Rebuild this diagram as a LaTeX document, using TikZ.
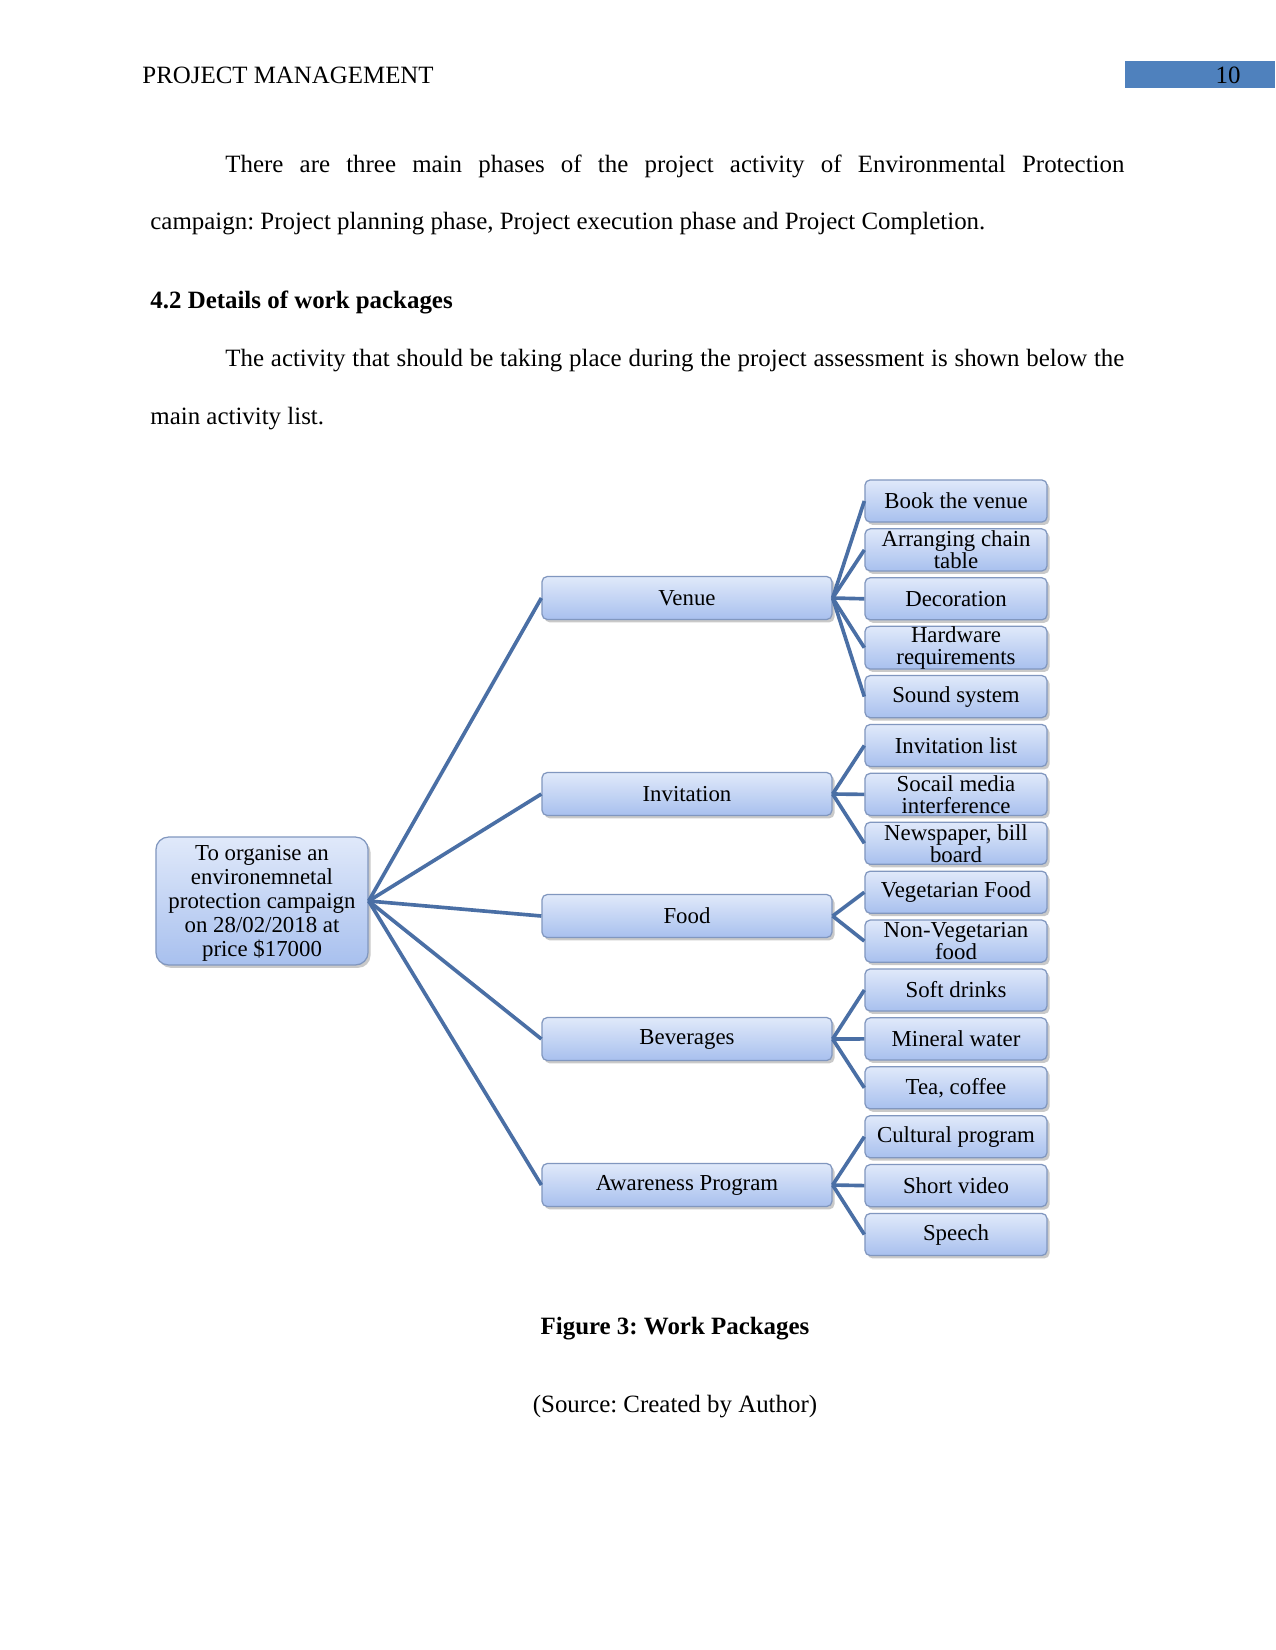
\documentclass[tikz,border=0pt]{standalone}
\usepackage{fontspec}
\setmainfont{Liberation Serif}
\usetikzlibrary{shadows}
\frenchspacing
\definecolor{edgeblue}{HTML}{4A6FA5}
\definecolor{boxtop}{HTML}{E0E9FA}
\definecolor{boxbot}{HTML}{A8C0EE}
\definecolor{boxline}{HTML}{8197BF}
\definecolor{pagenum}{HTML}{4F81BD}
\tikzset{
  wbox/.style={rectangle, rounded corners=2.5bp, draw=boxline, line width=0.6bp,
    top color=boxtop, bottom color=boxbot, inner sep=0pt, align=center,
    font=\fontsize{11}{10.6}\selectfont,
    drop shadow={shadow xshift=1.2bp, shadow yshift=-1.4bp, opacity=0.35, fill=black!60}},
  leaf/.style={wbox, minimum width=87.4bp, minimum height=20.2bp},
  mid/.style={wbox, minimum width=139.2bp, minimum height=20.6bp},
  rootbox/.style={wbox, rounded corners=6bp, minimum width=101.8bp, minimum height=61.4bp,
    font=\fontsize{11}{11.5}\selectfont},
  conn/.style={draw=edgeblue, line width=1.75bp},
  body/.style={anchor=base west, inner sep=0pt, font=\fontsize{12}{14}\selectfont},
}
\begin{document}
\begin{tikzpicture}[x=0.48bp,y=-0.48bp]
\useasboundingbox (0,0) rectangle (1275,1650);
\fill[white] (0,0) rectangle (1275,1650);
% header
\node[body] (hdr) at (142,83) {PROJECT MANAGEMENT};
\fill[pagenum] (1125,61) rectangle (1275,88);
\node[anchor=base east, inner sep=0pt, font=\fontsize{12}{14}\selectfont] (pg) at (1241,83) {10};
% body text
\node[body] (p1a) at (225,172) {\makebox[431.5bp][s]{There are three main phases of the project activity of Environmental Protection}};
\node[body] (p1b) at (150,229) {campaign: Project planning phase, Project execution phase and Project Completion.};
\node[body, font=\fontsize{12}{14}\selectfont\bfseries] (h42) at (150,308) {4.2 Details of work packages};
\node[body] (p2a) at (225,366) {\makebox[431.5bp][s]{The activity that should be taking place during the project assessment is shown below the}};
\node[body] (p2b) at (150,424) {main activity list.};
% diagram
\node[rootbox, text depth=-1.5bp] (root) at (262,901) {To organise an\\environemnetal\\protection campaign\\on 28/02/2018 at\\price \$17000};
\node[mid] (venue) at (687,598) {Venue};
\node[mid] (inv) at (687,794) {Invitation};
\node[mid] (food) at (687,916) {Food};
\node[mid] (bev) at (687,1039) {Beverages};
\node[mid] (aw) at (687,1185) {Awareness Program};
\node[leaf] (c1) at (956,501) {Book the venue};
\node[leaf] (c2) at (956,549.9) {Arranging chain\\table};
\node[leaf] (c3) at (956,598.8) {Decoration};
\node[leaf] (c4) at (956,647.7) {Hardware\\requirements};
\node[leaf] (c5) at (956,696.6) {Sound system};
\node[leaf] (c6) at (956,745.5) {Invitation list};
\node[leaf] (c7) at (956,794.4) {Socail media\\interference};
\node[leaf] (c8) at (956,843.3) {Newspaper, bill\\board};
\node[leaf] (c9) at (956,892.2) {Vegetarian Food};
\node[leaf] (c10) at (956,941.1) {Non-Vegetarian\\food};
\node[leaf] (c11) at (956,990) {Soft drinks};
\node[leaf] (c12) at (956,1038.9) {Mineral water};
\node[leaf] (c13) at (956,1087.8) {Tea, coffee};
\node[leaf] (c14) at (956,1136.7) {Cultural program};
\node[leaf] (c15) at (956,1185.6) {Short video};
\node[leaf] (c16) at (956,1234.5) {Speech};
% connectors
\foreach \m in {venue,inv,food,bev,aw} \draw[conn] (root.east) -- (\m.west);
\foreach \c in {c1,c2,c3,c4,c5} \draw[conn] (venue.east) -- (\c.west);
\foreach \c in {c6,c7,c8} \draw[conn] (inv.east) -- (\c.west);
\foreach \c in {c9,c10} \draw[conn] (food.east) -- (\c.west);
\foreach \c in {c11,c12,c13} \draw[conn] (bev.east) -- (\c.west);
\foreach \c in {c14,c15,c16} \draw[conn] (aw.east) -- (\c.west);
% caption
\node[anchor=base, inner sep=0pt, font=\fontsize{12}{14}\selectfont\bfseries] (cap) at (675,1334) {Figure 3: Work Packages};
\node[anchor=base, inner sep=0pt, font=\fontsize{12}{14}\selectfont] (src) at (675,1412) {(Source: Created by Author)};
\end{tikzpicture}
\end{document}
